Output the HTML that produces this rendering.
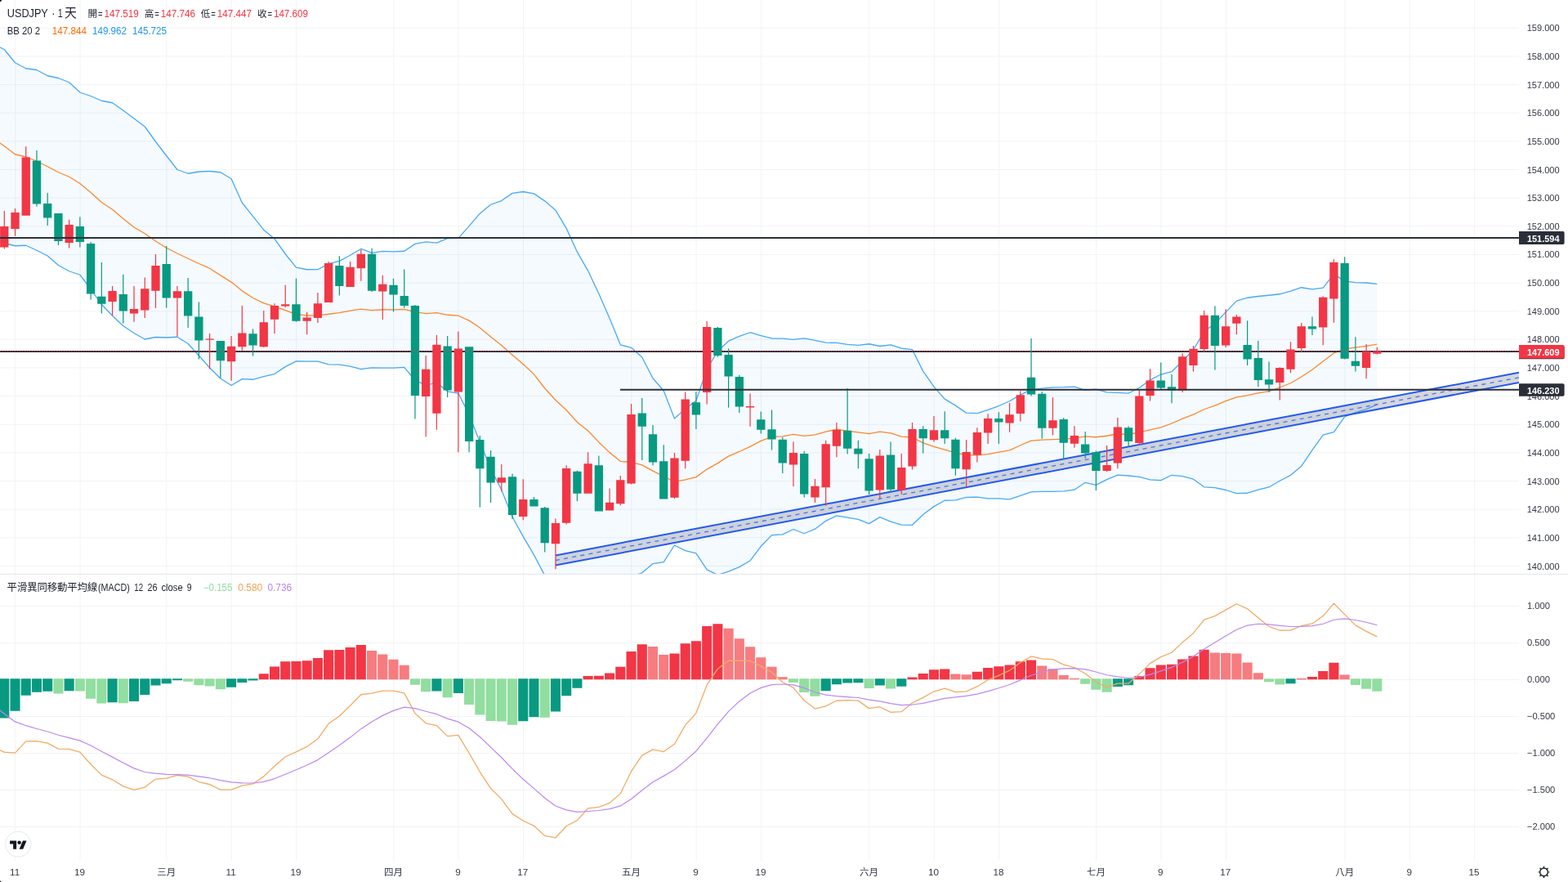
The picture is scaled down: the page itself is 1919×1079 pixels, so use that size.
<!DOCTYPE html>
<html><head><meta charset="utf-8"><title>USDJPY</title><style>html,body{margin:0;padding:0;background:#fff;overflow:hidden}svg{display:block;will-change:transform}text{font-family:"Liberation Sans","Noto Sans CJK TC",sans-serif}</style></head><body>
<svg width="1919" height="1079" viewBox="0 0 1919 1079" font-family="Liberation Sans, Noto Sans CJK TC, sans-serif">
<defs><clipPath id="cm"><rect x="0" y="0" width="1859" height="702.3"/></clipPath><clipPath id="cs"><rect x="0" y="702.3" width="1859" height="351.2"/></clipPath></defs>
<rect width="1919" height="1079" fill="#fff"/>
<path d="M18.75 0V1053.5M98.12 0V1053.5M203.96 0V1053.5M283.33 0V1053.5M362.7 0V1053.5M481.76 0V1053.5M561.14 0V1053.5M640.51 0V1053.5M772.8 0V1053.5M852.18 0V1053.5M931.55 0V1053.5M1063.84 0V1053.5M1143.21 0V1053.5M1222.59 0V1053.5M1341.65 0V1053.5M1421.02 0V1053.5M1500.4 0V1053.5M1645.92 0V1053.5M1725.29 0V1053.5M1804.66 0V1053.5M0 692.42H1859M0 657.78H1859M0 623.14H1859M0 588.5H1859M0 553.86H1859M0 519.22H1859M0 484.58H1859M0 449.94H1859M0 415.3H1859M0 380.66H1859M0 346.02H1859M0 311.38H1859M0 276.74H1859M0 242.1H1859M0 207.46H1859M0 172.82H1859M0 138.18H1859M0 103.54H1859M0 68.9H1859M0 34.26H1859M0 741.47H1859M0 786.49H1859M0 831.5H1859M0 876.51H1859M0 921.53H1859M0 966.55H1859M0 1011.56H1859" stroke="#f2f3f4" stroke-width="1" fill="none"/>
<g clip-path="url(#cm)">
<polygon points="-7.96,54.2 5.27,60.5 18.5,76.75 31.73,83.75 44.96,85.5 58.19,92.75 71.42,95.5 84.64,100.75 97.87,113 111.1,117.5 124.33,123.25 137.56,125.75 150.79,135 164.02,145 177.25,155 190.48,173.25 203.71,190.5 216.94,207.5 230.16,212.25 243.39,210 256.62,209.5 269.85,210.76 283.08,218.72 296.31,248 309.54,264.71 322.77,281.15 336,292.13 349.22,310.75 362.45,327.15 375.68,329.75 388.91,329.7 402.14,322.68 415.37,319.37 428.6,312.27 441.83,304.48 455.06,309.31 468.29,307.38 481.51,307.84 494.74,307.27 507.97,298.36 521.2,295.83 534.43,297.03 547.66,291.71 560.89,291.4 574.12,276.69 587.35,261.19 600.58,250.24 613.8,245.55 627.03,236.4 640.26,234.5 653.49,236.87 666.72,245.86 679.95,257.15 693.18,279.38 706.41,308.15 719.64,331.33 732.87,359.16 746.09,389.4 759.32,421.85 772.55,425.26 785.78,437.04 799.01,462.72 812.24,478.02 825.47,511.96 838.7,500.11 851.93,490.27 865.16,451.27 878.38,429.82 891.61,417.16 904.84,411.32 918.07,406.74 931.3,410.57 944.53,413.98 957.76,414.04 970.99,415.45 984.22,413.93 997.45,416.45 1010.67,419.12 1023.9,419.47 1037.13,421.42 1050.36,422.44 1063.59,420.75 1076.82,423.5 1090.05,421.77 1103.28,426.23 1116.51,427.7 1129.74,454.16 1142.96,473.15 1156.19,488.11 1169.42,496.12 1182.65,505.13 1195.88,505.67 1209.11,501.35 1222.34,496.52 1235.57,490.76 1248.8,483.14 1262.03,476.33 1275.25,475.04 1288.48,473.79 1301.71,473.61 1314.94,473.03 1328.17,477.27 1341.4,476.11 1354.63,479.93 1367.86,480.37 1381.09,481.03 1394.32,474.53 1407.54,464.85 1420.77,458.04 1434,454.74 1447.23,441.75 1460.46,427.96 1473.69,405.69 1486.92,395.53 1500.15,381.85 1513.38,368.12 1526.61,364.25 1539.83,362.51 1553.06,361.26 1566.29,359.77 1579.52,356.14 1592.75,351.74 1605.98,353.97 1619.21,352.08 1632.44,335.38 1645.67,343.83 1658.9,345.62 1672.12,345.98 1685.35,347.29 1685.35,494.83 1672.12,500.61 1658.9,504.52 1645.67,509.98 1632.44,528.56 1619.21,532.02 1605.98,550.66 1592.75,570.23 1579.52,581.36 1566.29,588.28 1553.06,595.97 1539.83,599.09 1526.61,603.23 1513.38,603.65 1500.15,599.5 1486.92,596.62 1473.69,595.81 1460.46,586.17 1447.23,582.6 1434,581.28 1420.77,587.56 1407.54,586.92 1394.32,583.32 1381.09,581.99 1367.86,581.16 1354.63,586.55 1341.4,593.34 1328.17,590.33 1314.94,599.17 1301.71,600.84 1288.48,601.36 1275.25,601.29 1262.03,601.95 1248.8,606.36 1235.57,610.87 1222.34,609.78 1209.11,609.95 1195.88,608.18 1182.65,608.39 1169.42,611.8 1156.19,612.24 1142.96,619.62 1129.74,629.48 1116.51,642.32 1103.28,642.04 1090.05,638.14 1076.82,632.59 1063.59,640.64 1050.36,635.45 1037.13,633.09 1023.9,630.87 1010.67,637.35 997.45,647.16 984.22,652.76 970.99,647.52 957.76,653.9 944.53,654.61 931.3,668.27 918.07,685.95 904.84,693.62 891.61,699.13 878.38,703.42 865.16,696.9 851.93,676.95 838.7,673.69 825.47,666.99 812.24,687.53 799.01,689.53 785.78,700.84 772.55,705.61 759.32,706.72 746.09,717.85 732.87,722.67 719.64,722.72 706.41,724.75 693.18,724.22 679.95,721.82 666.72,704.11 653.49,678.88 640.26,656.42 627.03,632.27 613.8,599.4 600.58,573.51 587.35,540.91 574.12,507.51 560.89,481.05 547.66,478.84 534.43,468.14 521.2,471.3 507.97,465.04 494.74,449.38 481.51,450.06 468.29,450.09 455.06,449.84 441.83,451.59 428.6,448.06 415.37,446.08 402.14,445.82 388.91,442.2 375.68,442.2 362.45,441.9 349.22,448.62 336,457.52 322.77,460.6 309.54,464.27 296.31,463.67 283.08,471.45 269.85,463.04 256.62,450 243.39,435 230.16,420.5 216.94,412.25 203.71,413 190.48,412.5 177.25,415 164.02,407.5 150.79,398.75 137.56,386.25 124.33,372.5 111.1,353.75 97.87,336.25 84.64,331.75 71.42,324.5 58.19,313 44.96,306.25 31.73,300.25 18.5,300.75 5.27,297.5 -7.96,293" fill="#2196F3" fill-opacity="0.05"/>
<polyline points="-7.96,54.2 5.27,60.5 18.5,76.75 31.73,83.75 44.96,85.5 58.19,92.75 71.42,95.5 84.64,100.75 97.87,113 111.1,117.5 124.33,123.25 137.56,125.75 150.79,135 164.02,145 177.25,155 190.48,173.25 203.71,190.5 216.94,207.5 230.16,212.25 243.39,210 256.62,209.5 269.85,210.76 283.08,218.72 296.31,248 309.54,264.71 322.77,281.15 336,292.13 349.22,310.75 362.45,327.15 375.68,329.75 388.91,329.7 402.14,322.68 415.37,319.37 428.6,312.27 441.83,304.48 455.06,309.31 468.29,307.38 481.51,307.84 494.74,307.27 507.97,298.36 521.2,295.83 534.43,297.03 547.66,291.71 560.89,291.4 574.12,276.69 587.35,261.19 600.58,250.24 613.8,245.55 627.03,236.4 640.26,234.5 653.49,236.87 666.72,245.86 679.95,257.15 693.18,279.38 706.41,308.15 719.64,331.33 732.87,359.16 746.09,389.4 759.32,421.85 772.55,425.26 785.78,437.04 799.01,462.72 812.24,478.02 825.47,511.96 838.7,500.11 851.93,490.27 865.16,451.27 878.38,429.82 891.61,417.16 904.84,411.32 918.07,406.74 931.3,410.57 944.53,413.98 957.76,414.04 970.99,415.45 984.22,413.93 997.45,416.45 1010.67,419.12 1023.9,419.47 1037.13,421.42 1050.36,422.44 1063.59,420.75 1076.82,423.5 1090.05,421.77 1103.28,426.23 1116.51,427.7 1129.74,454.16 1142.96,473.15 1156.19,488.11 1169.42,496.12 1182.65,505.13 1195.88,505.67 1209.11,501.35 1222.34,496.52 1235.57,490.76 1248.8,483.14 1262.03,476.33 1275.25,475.04 1288.48,473.79 1301.71,473.61 1314.94,473.03 1328.17,477.27 1341.4,476.11 1354.63,479.93 1367.86,480.37 1381.09,481.03 1394.32,474.53 1407.54,464.85 1420.77,458.04 1434,454.74 1447.23,441.75 1460.46,427.96 1473.69,405.69 1486.92,395.53 1500.15,381.85 1513.38,368.12 1526.61,364.25 1539.83,362.51 1553.06,361.26 1566.29,359.77 1579.52,356.14 1592.75,351.74 1605.98,353.97 1619.21,352.08 1632.44,335.38 1645.67,343.83 1658.9,345.62 1672.12,345.98 1685.35,347.29" fill="none" stroke="#2196F3" stroke-width="1.3" stroke-opacity="0.82" stroke-linejoin="round"/>
<polyline points="-7.96,293 5.27,297.5 18.5,300.75 31.73,300.25 44.96,306.25 58.19,313 71.42,324.5 84.64,331.75 97.87,336.25 111.1,353.75 124.33,372.5 137.56,386.25 150.79,398.75 164.02,407.5 177.25,415 190.48,412.5 203.71,413 216.94,412.25 230.16,420.5 243.39,435 256.62,450 269.85,463.04 283.08,471.45 296.31,463.67 309.54,464.27 322.77,460.6 336,457.52 349.22,448.62 362.45,441.9 375.68,442.2 388.91,442.2 402.14,445.82 415.37,446.08 428.6,448.06 441.83,451.59 455.06,449.84 468.29,450.09 481.51,450.06 494.74,449.38 507.97,465.04 521.2,471.3 534.43,468.14 547.66,478.84 560.89,481.05 574.12,507.51 587.35,540.91 600.58,573.51 613.8,599.4 627.03,632.27 640.26,656.42 653.49,678.88 666.72,704.11 679.95,721.82 693.18,724.22 706.41,724.75 719.64,722.72 732.87,722.67 746.09,717.85 759.32,706.72 772.55,705.61 785.78,700.84 799.01,689.53 812.24,687.53 825.47,666.99 838.7,673.69 851.93,676.95 865.16,696.9 878.38,703.42 891.61,699.13 904.84,693.62 918.07,685.95 931.3,668.27 944.53,654.61 957.76,653.9 970.99,647.52 984.22,652.76 997.45,647.16 1010.67,637.35 1023.9,630.87 1037.13,633.09 1050.36,635.45 1063.59,640.64 1076.82,632.59 1090.05,638.14 1103.28,642.04 1116.51,642.32 1129.74,629.48 1142.96,619.62 1156.19,612.24 1169.42,611.8 1182.65,608.39 1195.88,608.18 1209.11,609.95 1222.34,609.78 1235.57,610.87 1248.8,606.36 1262.03,601.95 1275.25,601.29 1288.48,601.36 1301.71,600.84 1314.94,599.17 1328.17,590.33 1341.4,593.34 1354.63,586.55 1367.86,581.16 1381.09,581.99 1394.32,583.32 1407.54,586.92 1420.77,587.56 1434,581.28 1447.23,582.6 1460.46,586.17 1473.69,595.81 1486.92,596.62 1500.15,599.5 1513.38,603.65 1526.61,603.23 1539.83,599.09 1553.06,595.97 1566.29,588.28 1579.52,581.36 1592.75,570.23 1605.98,550.66 1619.21,532.02 1632.44,528.56 1645.67,509.98 1658.9,504.52 1672.12,500.61 1685.35,494.83" fill="none" stroke="#2196F3" stroke-width="1.3" stroke-opacity="0.82" stroke-linejoin="round"/>
<polyline points="-7.96,169.5 5.27,178.75 18.5,188.75 31.73,192 44.96,197 58.19,203.75 71.42,210.75 84.64,216.25 97.87,224.5 111.1,235.5 124.33,247.5 137.56,256.25 150.79,267.5 164.02,278 177.25,285.75 190.48,295 203.71,303.25 216.94,310 230.16,316.25 243.39,322.5 256.62,328.25 269.85,336.9 283.08,345.09 296.31,355.84 309.54,364.49 322.77,370.88 336,374.83 349.22,379.69 362.45,384.52 375.68,385.97 388.91,385.95 402.14,384.25 415.37,382.72 428.6,380.16 441.83,378.04 455.06,379.58 468.29,378.74 481.51,378.95 494.74,378.32 507.97,381.7 521.2,383.56 534.43,382.59 547.66,385.27 560.89,386.22 574.12,392.1 587.35,401.05 600.58,411.88 613.8,422.48 627.03,434.34 640.26,445.46 653.49,457.87 666.72,474.99 679.95,489.49 693.18,501.8 706.41,516.45 719.64,527.03 732.87,540.91 746.09,553.62 759.32,564.29 772.55,565.44 785.78,568.94 799.01,576.13 812.24,582.78 825.47,589.48 838.7,586.9 851.93,583.61 865.16,574.09 878.38,566.62 891.61,558.14 904.84,552.47 918.07,546.34 931.3,539.42 944.53,534.29 957.76,533.97 970.99,531.48 984.22,533.34 997.45,531.81 1010.67,528.23 1023.9,525.17 1037.13,527.26 1050.36,528.95 1063.59,530.69 1076.82,528.04 1090.05,529.96 1103.28,534.13 1116.51,535.01 1129.74,541.82 1142.96,546.39 1156.19,550.17 1169.42,553.96 1182.65,556.76 1195.88,556.92 1209.11,555.65 1222.34,553.15 1235.57,550.81 1248.8,544.75 1262.03,539.14 1275.25,538.16 1288.48,537.57 1301.71,537.22 1314.94,536.1 1328.17,533.8 1341.4,534.73 1354.63,533.24 1367.86,530.76 1381.09,531.51 1394.32,528.93 1407.54,525.89 1420.77,522.8 1434,518.01 1447.23,512.17 1460.46,507.06 1473.69,500.75 1486.92,496.07 1500.15,490.68 1513.38,485.89 1526.61,483.74 1539.83,480.8 1553.06,478.61 1566.29,474.02 1579.52,468.75 1592.75,460.99 1605.98,452.31 1619.21,442.05 1632.44,431.97 1645.67,426.91 1658.9,425.07 1672.12,423.3 1685.35,421.06" fill="none" stroke="#FF6D00" stroke-width="1.3" stroke-opacity="0.82" stroke-linejoin="round"/>
<polygon points="680,679.4 1859.0,455.8 1859.0,467.9 680,691.6" fill="#787B86" fill-opacity="0.3"/>
<path d="M680 679.4L1859.0 455.8M680 691.6L1859.0 467.9" stroke="#2459EE" stroke-width="2" fill="none"/>
<path d="M680 685.5L1859.0 461.85" stroke="#2962FF" stroke-width="1.3" stroke-dasharray="5 5.3" fill="none" stroke-opacity="0.85"/>
<path d="M0 430.05H1859.0" stroke="#2c303b" stroke-width="1.9" fill="none"/>
<path d="M44.36 184h1.2V252.5h-1.2zM39.81 196.5h10.3V249.5h-10.3zM57.59 236h1.2V276h-1.2zM53.04 249h10.3V266.5h-10.3zM70.82 261h1.2V300h-1.2zM66.27 261h10.3V295h-10.3zM97.27 265.5h1.2V302.5h-1.2zM92.72 277h10.3V296h-10.3zM110.5 296h1.2V366.5h-1.2zM105.95 298h10.3V359.5h-10.3zM123.73 321h1.2V383.5h-1.2zM119.18 362.75h10.3V371.75h-10.3zM150.19 335.75h1.2V395.5h-1.2zM145.64 360h10.3V380.5h-10.3zM203.11 301h1.2V376.5h-1.2zM198.56 323h10.3V364.5h-10.3zM229.56 340h1.2V401h-1.2zM225.01 356.25h10.3V386.5h-10.3zM242.79 369.5h1.2V439.5h-1.2zM238.24 387.5h10.3V416.5h-10.3zM269.25 417h1.2V462.5h-1.2zM264.7 417h10.3V441.25h-10.3zM308.94 402.5h1.2V435.5h-1.2zM304.39 408.25h10.3V422.5h-10.3zM361.85 340.75h1.2V393.75h-1.2zM357.3 372.25h10.3V392.75h-10.3zM414.77 313.25h1.2V361.5h-1.2zM410.22 325h10.3V350h-10.3zM454.46 303.75h1.2V357h-1.2zM449.91 310.75h10.3V355.75h-10.3zM480.91 340.75h1.2V381.5h-1.2zM476.37 348.75h10.3V360.5h-10.3zM494.14 329.5h1.2V376.75h-1.2zM489.59 362h10.3V374h-10.3zM507.37 373h1.2V512.5h-1.2zM502.82 374h10.3V484h-10.3zM547.06 411h1.2V486h-1.2zM542.51 423.5h10.3V477.5h-10.3zM573.52 424.25h1.2V553.25h-1.2zM568.97 424.25h10.3V540h-10.3zM586.75 533h1.2V620.5h-1.2zM582.2 538h10.3V573.25h-10.3zM599.98 551h1.2V615h-1.2zM595.43 558.75h10.3V590.5h-10.3zM626.43 579.5h1.2V635h-1.2zM621.88 583.25h10.3V630h-10.3zM652.89 608h1.2V619.5h-1.2zM648.34 611h10.3V619.5h-10.3zM666.12 620h1.2V675.5h-1.2zM661.57 621.25h10.3V664.25h-10.3zM705.81 575.75h1.2V613h-1.2zM701.26 576.75h10.3V603.75h-10.3zM732.27 557.5h1.2V625.5h-1.2zM727.72 569.25h10.3V625.5h-10.3zM785.18 487h1.2V563h-1.2zM780.63 505.5h10.3V521.75h-10.3zM798.41 520h1.2V569.25h-1.2zM793.86 531.25h10.3V565.5h-10.3zM811.64 544.25h1.2V610.5h-1.2zM807.09 564.25h10.3V610.5h-10.3zM851.33 479h1.2V525h-1.2zM846.78 492.25h10.3V507.5h-10.3zM877.78 400h1.2V436.8h-1.2zM873.24 401h10.3V434.9h-10.3zM891.01 426.5h1.2V498.75h-1.2zM886.46 434h10.3V460.5h-10.3zM904.24 458.75h1.2V505h-1.2zM899.69 461h10.3V497.5h-10.3zM930.7 503.5h1.2V530.5h-1.2zM926.15 513.25h10.3V525.75h-10.3zM943.93 501.5h1.2V550.5h-1.2zM939.38 525.25h10.3V537.5h-10.3zM957.16 535h1.2V579h-1.2zM952.61 537.75h10.3V566.5h-10.3zM983.62 552h1.2V608.5h-1.2zM979.07 555h10.3V604.5h-10.3zM1036.53 475h1.2V555.5h-1.2zM1031.98 526.75h10.3V548.75h-10.3zM1049.76 538.75h1.2V573.25h-1.2zM1045.21 548.75h10.3V555.5h-10.3zM1062.99 555h1.2V605h-1.2zM1058.44 561.25h10.3V600.5h-10.3zM1089.45 540.5h1.2V601.25h-1.2zM1084.9 556.5h10.3V598.75h-10.3zM1129.14 521.25h1.2V554.5h-1.2zM1124.59 525h10.3V536.25h-10.3zM1155.59 503.25h1.2V543h-1.2zM1151.04 526.25h10.3V536.25h-10.3zM1168.82 535.75h1.2V581.75h-1.2zM1164.27 537.75h10.3V573.25h-10.3zM1221.74 504.25h1.2V543h-1.2zM1217.19 512h10.3V516.5h-10.3zM1261.43 414h1.2V484.5h-1.2zM1256.88 461.75h10.3V482.5h-10.3zM1274.65 479h1.2V536.75h-1.2zM1270.1 481.75h10.3V523.75h-10.3zM1301.11 511h1.2V562.25h-1.2zM1296.56 513h10.3V541.75h-10.3zM1327.57 528h1.2V560.75h-1.2zM1323.02 543.5h10.3V554.5h-10.3zM1340.8 551.5h1.2V600h-1.2zM1336.25 553.25h10.3V576h-10.3zM1380.49 521.25h1.2V547h-1.2zM1375.94 523.25h10.3V540h-10.3zM1420.17 443.5h1.2V476.25h-1.2zM1415.62 465.5h10.3V474.5h-10.3zM1433.4 458h1.2V493.25h-1.2zM1428.85 473.25h10.3V477.5h-10.3zM1486.32 374.25h1.2V452.5h-1.2zM1481.77 385.75h10.3V423h-10.3zM1526.01 392.25h1.2V447h-1.2zM1521.46 422h10.3V439.5h-10.3zM1539.23 417h1.2V473.25h-1.2zM1534.68 438h10.3V465h-10.3zM1552.46 442.5h1.2V480h-1.2zM1547.91 464.25h10.3V470.5h-10.3zM1605.38 387.5h1.2V410h-1.2zM1600.83 399.25h10.3V402.5h-10.3zM1645.07 314.2h1.2V439.6h-1.2zM1640.52 322h10.3V438.7h-10.3zM1658.3 412.3h1.2V454.6h-1.2zM1653.75 441.8h10.3V447.8h-10.3z" fill="#089981"/>
<path d="M4.67 258h1.2V304.5h-1.2zM0.12 277h10.3V302.5h-10.3zM17.9 255h1.2V288.7h-1.2zM13.35 260h10.3V280h-10.3zM31.13 179.25h1.2V263.75h-1.2zM26.58 192.5h10.3V263.75h-10.3zM84.05 268.75h1.2V303.5h-1.2zM79.49 275h10.3V297h-10.3zM136.96 350h1.2V386h-1.2zM132.41 356h10.3V369h-10.3zM163.42 350h1.2V393.75h-1.2zM158.87 378h10.3V383.5h-10.3zM176.65 339.5h1.2V389h-1.2zM172.1 353.25h10.3V379.5h-10.3zM189.88 311h1.2V377h-1.2zM185.33 325h10.3V355.75h-10.3zM216.34 350h1.2V411.75h-1.2zM211.78 356.25h10.3V364.5h-10.3zM256.02 408h1.2V451.5h-1.2zM251.47 414.5h10.3V415.75h-10.3zM282.48 411h1.2V465.75h-1.2zM277.93 423.75h10.3V442.25h-10.3zM295.71 374h1.2V428.75h-1.2zM291.16 407.5h10.3V424.25h-10.3zM322.17 380h1.2V425h-1.2zM317.62 394.25h10.3V424.25h-10.3zM335.4 371.25h1.2V408h-1.2zM330.85 374h10.3V390.75h-10.3zM348.62 348.5h1.2V376.25h-1.2zM344.07 372.25h10.3V374.5h-10.3zM375.08 381.75h1.2V409.25h-1.2zM370.53 388.5h10.3V392.75h-10.3zM388.31 358h1.2V395h-1.2zM383.76 371.25h10.3V389h-10.3zM401.54 320h1.2V370h-1.2zM396.99 322h10.3V370h-10.3zM428 320h1.2V351h-1.2zM423.45 326.75h10.3V351h-10.3zM441.23 305.5h1.2V343.75h-1.2zM436.68 310.75h10.3V328.25h-10.3zM467.69 336.75h1.2V391h-1.2zM463.14 347.75h10.3V356.5h-10.3zM520.6 435h1.2V534.25h-1.2zM516.05 451.75h10.3V485h-10.3zM533.83 410h1.2V525.75h-1.2zM529.28 421.75h10.3V505.75h-10.3zM560.29 405.5h1.2V553.25h-1.2zM555.74 426.5h10.3V479.5h-10.3zM613.2 568h1.2V601.25h-1.2zM608.65 584.25h10.3V590.5h-10.3zM639.66 586.25h1.2V636.25h-1.2zM635.11 611h10.3V632h-10.3zM679.35 634.5h1.2V696.25h-1.2zM674.8 640h10.3V665.25h-10.3zM692.58 569.25h1.2V641.5h-1.2zM688.03 573h10.3V639.75h-10.3zM719.04 553.25h1.2V603.75h-1.2zM714.49 567.25h10.3V603.75h-10.3zM745.49 597.5h1.2V624.5h-1.2zM740.94 614.75h10.3V624.5h-10.3zM758.72 582h1.2V618.25h-1.2zM754.17 587.25h10.3V616.25h-10.3zM771.95 494h1.2V592.5h-1.2zM767.4 507h10.3V591.5h-10.3zM824.87 554h1.2V610h-1.2zM820.32 560.5h10.3V608.75h-10.3zM838.1 479.25h1.2V573.25h-1.2zM833.55 488.5h10.3V563.75h-10.3zM864.56 393h1.2V494.5h-1.2zM860.01 400h10.3V480h-10.3zM917.47 481.5h1.2V521.75h-1.2zM912.92 497h10.3V498.5h-10.3zM970.39 540.5h1.2V595h-1.2zM965.84 554h10.3V568.5h-10.3zM996.85 586h1.2V615h-1.2zM992.3 594.75h10.3V608.5h-10.3zM1010.07 538.75h1.2V618.75h-1.2zM1005.52 543.25h10.3V596.25h-10.3zM1023.3 517h1.2V559.25h-1.2zM1018.75 526h10.3V545.75h-10.3zM1076.22 550h1.2V610.5h-1.2zM1071.67 557.5h10.3V599.5h-10.3zM1102.68 555h1.2V605h-1.2zM1098.13 572h10.3V599.5h-10.3zM1115.91 517h1.2V574.5h-1.2zM1111.36 525h10.3V570.5h-10.3zM1142.37 509h1.2V540.5h-1.2zM1137.81 526.25h10.3V538.25h-10.3zM1182.05 538h1.2V595.75h-1.2zM1177.5 553h10.3V574.25h-10.3zM1195.28 523.25h1.2V565.5h-1.2zM1190.73 529h10.3V556.5h-10.3zM1208.51 506.25h1.2V543h-1.2zM1203.96 512h10.3V529.5h-10.3zM1234.97 493h1.2V528.75h-1.2zM1230.42 507.25h10.3V517.5h-10.3zM1248.2 478.25h1.2V515.5h-1.2zM1243.65 483.25h10.3V506h-10.3zM1287.88 486.25h1.2V532.5h-1.2zM1283.33 514.25h10.3V523.75h-10.3zM1314.34 521.25h1.2V547.75h-1.2zM1309.79 533h10.3V542.75h-10.3zM1354.03 545h1.2V577h-1.2zM1349.48 569h10.3V576h-10.3zM1367.26 511h1.2V573.25h-1.2zM1362.71 522.5h10.3V566.5h-10.3zM1393.72 477.5h1.2V545h-1.2zM1389.17 484.5h10.3V542h-10.3zM1406.94 451.25h1.2V490.5h-1.2zM1402.39 465.5h10.3V484h-10.3zM1446.63 432h1.2V480h-1.2zM1442.08 436.25h10.3V477.5h-10.3zM1459.86 423h1.2V454.5h-1.2zM1455.31 426.75h10.3V447h-10.3zM1473.09 380h1.2V430.5h-1.2zM1468.54 385.75h10.3V427h-10.3zM1499.55 378.25h1.2V425h-1.2zM1495 399.25h10.3V422.5h-10.3zM1512.78 385h1.2V409.25h-1.2zM1508.23 387.5h10.3V395.75h-10.3zM1565.69 449.25h1.2V489.5h-1.2zM1561.14 450h10.3V468h-10.3zM1578.92 418.25h1.2V456.25h-1.2zM1574.37 427.5h10.3V451.75h-10.3zM1592.15 395h1.2V431.25h-1.2zM1587.6 399.25h10.3V426h-10.3zM1618.61 362.6h1.2V422.3h-1.2zM1614.06 363.8h10.3V400.5h-10.3zM1631.84 317.2h1.2V394.8h-1.2zM1627.29 320.9h10.3V365.5h-10.3zM1671.53 420.9h1.2V463.2h-1.2zM1666.97 430h10.3V450h-10.3zM1684.75 424.8h1.2V433.4h-1.2zM1680.2 429.8h10.3V432.8h-10.3z" fill="#F23645"/>
<path d="M0 291H1859.0M759 476.8H1859.0" stroke="#2c303b" stroke-width="1.9" fill="none"/>
<path d="M0 429.6H1859.0" stroke="#F23645" stroke-opacity="0.8" stroke-width="1" stroke-dasharray="1.2 1.8" fill="none"/>
</g>
<path d="M0 702.3H1919" stroke="#e0e3eb" stroke-width="1"/>
<g clip-path="url(#cs)">
<path d="M316.72 824.28h12.1V831.3h-12.1zM329.95 815.46h12.1V831.3h-12.1zM343.17 809.33h12.1V831.3h-12.1zM356.4 808.96h12.1V831.3h-12.1zM369.63 808.15h12.1V831.3h-12.1zM382.86 805.02h12.1V831.3h-12.1zM396.09 795.35h12.1V831.3h-12.1zM409.32 794.97h12.1V831.3h-12.1zM422.55 792.02h12.1V831.3h-12.1zM435.78 788.9h12.1V831.3h-12.1zM713.59 827.1h12.1V831.3h-12.1zM726.82 826.72h12.1V831.3h-12.1zM740.04 823.45h12.1V831.3h-12.1zM753.27 815.78h12.1V831.3h-12.1zM766.5 797.05h12.1V831.3h-12.1zM779.73 788.19h12.1V831.3h-12.1zM819.42 799.5h12.1V831.3h-12.1zM832.65 787.27h12.1V831.3h-12.1zM845.88 784.13h12.1V831.3h-12.1zM859.11 766h12.1V831.3h-12.1zM872.34 763.15h12.1V831.3h-12.1zM1110.46 828.62h12.1V831.3h-12.1zM1123.69 823.9h12.1V831.3h-12.1zM1136.91 819.37h12.1V831.3h-12.1zM1150.14 818.55h12.1V831.3h-12.1zM1189.83 821.64h12.1V831.3h-12.1zM1203.06 816.93h12.1V831.3h-12.1zM1216.29 815.32h12.1V831.3h-12.1zM1229.52 813.49h12.1V831.3h-12.1zM1242.75 809.22h12.1V831.3h-12.1zM1255.98 807.54h12.1V831.3h-12.1zM1388.27 826.88h12.1V831.3h-12.1zM1401.49 817.31h12.1V831.3h-12.1zM1414.72 813.57h12.1V831.3h-12.1zM1427.95 812.72h12.1V831.3h-12.1zM1441.18 806.43h12.1V831.3h-12.1zM1454.41 802.38h12.1V831.3h-12.1zM1467.64 794.79h12.1V831.3h-12.1zM1586.7 830.17h12.1V831.3h-12.1zM1599.93 828.08h12.1V831.3h-12.1zM1613.16 821.1h12.1V831.3h-12.1zM1626.39 810.75h12.1V831.3h-12.1z" fill="#F23645"/>
<path d="M449.01 796.05h12.1V831.3h-12.1zM462.24 800.55h12.1V831.3h-12.1zM475.46 806.67h12.1V831.3h-12.1zM488.69 813.65h12.1V831.3h-12.1zM792.96 790.88h12.1V831.3h-12.1zM806.19 800.97h12.1V831.3h-12.1zM885.56 768.66h12.1V831.3h-12.1zM898.79 781.14h12.1V831.3h-12.1zM912.02 791.24h12.1V831.3h-12.1zM925.25 804.25h12.1V831.3h-12.1zM938.48 815.65h12.1V831.3h-12.1zM951.71 828.33h12.1V831.3h-12.1zM1163.37 824.6h12.1V831.3h-12.1zM1176.6 825.16h12.1V831.3h-12.1zM1269.2 814.58h12.1V831.3h-12.1zM1282.43 818.35h12.1V831.3h-12.1zM1295.66 826.03h12.1V831.3h-12.1zM1308.89 829.77h12.1V831.3h-12.1zM1480.87 798.43h12.1V831.3h-12.1zM1494.1 798.89h12.1V831.3h-12.1zM1507.33 799.38h12.1V831.3h-12.1zM1520.56 810.51h12.1V831.3h-12.1zM1533.78 823.37h12.1V831.3h-12.1zM1639.62 825.49h12.1V831.3h-12.1z" fill="#F77C80"/>
<path d="M-0.78 830.3h12.1V878.45h-12.1zM12.45 830.3h12.1V869.85h-12.1zM25.68 830.3h12.1V850.79h-12.1zM38.91 830.3h12.1V846.77h-12.1zM52.14 830.3h12.1V845.72h-12.1zM78.59 830.3h12.1V845.36h-12.1zM131.51 830.3h12.1V859.31h-12.1zM157.97 830.3h12.1V858h-12.1zM171.2 830.3h12.1V850.11h-12.1zM184.43 830.3h12.1V838.48h-12.1zM197.66 830.3h12.1V836.32h-12.1zM210.88 830.3h12.1V832.3h-12.1zM277.03 830.3h12.1V840.8h-12.1zM290.26 830.3h12.1V835h-12.1zM303.49 830.3h12.1V832.52h-12.1zM528.38 830.3h12.1V845.47h-12.1zM554.84 830.3h12.1V847.91h-12.1zM634.21 830.3h12.1V882.34h-12.1zM647.44 830.3h12.1V877.24h-12.1zM673.9 830.3h12.1V870.46h-12.1zM687.13 830.3h12.1V851.28h-12.1zM700.36 830.3h12.1V841.87h-12.1zM1004.62 830.3h12.1V845.19h-12.1zM1017.85 830.3h12.1V837.27h-12.1zM1031.08 830.3h12.1V835.59h-12.1zM1044.31 830.3h12.1V835.25h-12.1zM1070.77 830.3h12.1V838.49h-12.1zM1097.23 830.3h12.1V839.67h-12.1zM1361.81 830.3h12.1V839.98h-12.1zM1375.04 830.3h12.1V838.28h-12.1zM1573.47 830.3h12.1V836.14h-12.1z" fill="#089981"/>
<path d="M65.37 830.3h12.1V848.46h-12.1zM91.82 830.3h12.1V845.52h-12.1zM105.05 830.3h12.1V854.73h-12.1zM118.28 830.3h12.1V860.58h-12.1zM144.74 830.3h12.1V860.26h-12.1zM224.11 830.3h12.1V833.68h-12.1zM237.34 830.3h12.1V838.35h-12.1zM250.57 830.3h12.1V839.51h-12.1zM263.8 830.3h12.1V843.15h-12.1zM501.92 830.3h12.1V837.65h-12.1zM515.15 830.3h12.1V846.2h-12.1zM541.61 830.3h12.1V853.13h-12.1zM568.07 830.3h12.1V862.12h-12.1zM581.3 830.3h12.1V874.39h-12.1zM594.53 830.3h12.1V882.06h-12.1zM607.75 830.3h12.1V882.42h-12.1zM620.98 830.3h12.1V886.69h-12.1zM660.67 830.3h12.1V877.85h-12.1zM964.94 830.3h12.1V835.09h-12.1zM978.17 830.3h12.1V846.94h-12.1zM991.4 830.3h12.1V851.86h-12.1zM1057.54 830.3h12.1V842.1h-12.1zM1084 830.3h12.1V842.45h-12.1zM1322.12 830.3h12.1V836.65h-12.1zM1335.35 830.3h12.1V843.86h-12.1zM1348.58 830.3h12.1V846.67h-12.1zM1547.01 830.3h12.1V834.15h-12.1zM1560.24 830.3h12.1V837.49h-12.1zM1652.85 830.3h12.1V837.99h-12.1zM1666.08 830.3h12.1V842.7h-12.1zM1679.3 830.3h12.1V845.68h-12.1z" fill="#92DDA0"/>
<polyline points="-7.96,914.18 5.27,920.18 18.5,921.14 31.73,906.88 44.96,906.65 58.19,909.13 71.42,916.09 84.64,916.42 97.87,920.06 111.1,935.05 124.33,948.15 137.56,953.81 150.79,961.92 164.02,966.27 177.25,963.01 190.48,953.09 203.71,952.12 216.94,948.26 230.16,950.17 243.39,956.53 256.62,959.66 269.85,966.19 283.08,966.14 296.31,961.19 309.54,958.94 322.77,949.87 336,937.21 349.22,925.72 362.45,919.88 375.68,913.42 388.91,903.84 402.14,885.31 415.37,875.97 428.6,863.32 441.83,849.73 455.06,848.19 468.29,845.13 481.51,845.21 494.74,847.91 507.97,872.62 521.2,884.82 534.43,887.55 547.66,900.6 560.89,899.46 574.12,921.3 587.35,944.27 600.58,964.54 613.8,977.61 627.03,995.66 640.26,1003.99 653.49,1010.3 666.72,1022.47 679.95,1024.8 693.18,1010.54 706.41,1003.69 719.64,988.8 732.87,987.4 746.09,982.29 759.32,970.87 772.55,943.7 785.78,924.19 799.01,916.9 812.24,919.53 825.47,910.23 838.7,887.13 851.93,872.32 865.16,837.98 878.38,818.23 891.61,808.2 904.84,808.27 918.07,808.47 931.3,814.85 944.53,822.46 957.76,834.53 970.99,841.35 984.22,857.04 997.45,867.02 1010.67,863.76 1023.9,857.26 1037.13,856.58 1050.36,857.15 1063.59,866.62 1076.82,864.73 1090.05,871.41 1103.28,870.64 1116.51,859.85 1129.74,853.4 1142.96,846.02 1156.19,842.13 1169.42,846.63 1182.65,845.78 1195.88,839.97 1209.11,831.8 1222.34,826.32 1235.57,820.16 1248.8,810.49 1262.03,802.99 1275.25,805.98 1288.48,806.64 1301.71,813.13 1314.94,816.61 1328.17,823.95 1341.4,834.23 1354.63,840.8 1367.86,836.21 1381.09,836.17 1394.32,824.59 1407.54,811.65 1420.77,803.6 1434,798.23 1447.23,785.85 1460.46,774.7 1473.69,758.11 1486.92,753.65 1500.15,746.13 1513.38,738.77 1526.61,744.82 1539.83,755.83 1553.06,766.45 1566.29,771.26 1579.52,771.05 1592.75,765.71 1605.98,762.95 1619.21,753.55 1632.44,738.17 1645.67,751.59 1658.9,764.89 1672.12,772.38 1685.35,778.87" fill="none" stroke="#F2AB66" stroke-width="1.3" stroke-linejoin="round"/>
<polyline points="-7.96,862.33 5.27,873.33 18.5,882.89 31.73,887.69 44.96,891.48 58.19,895.01 71.42,899.23 84.64,902.66 97.87,906.14 111.1,911.93 124.33,919.17 137.56,926.1 150.79,933.26 164.02,939.87 177.25,944.49 190.48,946.21 203.71,947.39 216.94,947.57 230.16,948.09 243.39,949.78 256.62,951.75 269.85,954.64 283.08,956.94 296.31,957.79 309.54,958.02 322.77,956.39 336,952.55 349.22,947.19 362.45,941.73 375.68,936.06 388.91,929.62 402.14,920.76 415.37,911.8 428.6,902.1 441.83,891.63 455.06,882.94 468.29,875.38 481.51,869.34 494.74,865.06 507.97,866.57 521.2,870.22 534.43,873.69 547.66,879.07 560.89,883.15 574.12,890.78 587.35,901.47 600.58,914.09 613.8,926.79 627.03,940.57 640.26,953.25 653.49,964.66 666.72,976.22 679.95,985.94 693.18,990.86 706.41,993.43 719.64,992.5 732.87,991.48 746.09,989.64 759.32,985.89 772.55,977.45 785.78,966.8 799.01,956.82 812.24,949.36 825.47,941.54 838.7,930.65 851.93,918.99 865.16,902.79 878.38,885.87 891.61,870.34 904.84,857.93 918.07,848.04 931.3,841.4 944.53,837.61 957.76,836.99 970.99,837.87 984.22,841.7 997.45,846.77 1010.67,850.16 1023.9,851.58 1037.13,852.58 1050.36,853.5 1063.59,856.12 1076.82,857.84 1090.05,860.56 1103.28,862.57 1116.51,862.03 1129.74,860.3 1142.96,857.44 1156.19,854.38 1169.42,852.83 1182.65,851.42 1195.88,849.13 1209.11,845.66 1222.34,841.79 1235.57,837.47 1248.8,832.07 1262.03,826.26 1275.25,822.2 1288.48,819.09 1301.71,817.9 1314.94,817.64 1328.17,818.9 1341.4,821.97 1354.63,825.73 1367.86,827.83 1381.09,829.5 1394.32,828.52 1407.54,825.14 1420.77,820.84 1434,816.31 1447.23,810.22 1460.46,803.12 1473.69,794.11 1486.92,786.02 1500.15,778.04 1513.38,770.19 1526.61,765.11 1539.83,763.26 1553.06,763.9 1566.29,765.37 1579.52,766.5 1592.75,766.35 1605.98,765.67 1619.21,763.24 1632.44,758.23 1645.67,756.9 1658.9,758.5 1672.12,761.27 1685.35,764.79" fill="none" stroke="#BA88F0" stroke-width="1.2" stroke-linejoin="round"/>
</g>
<text x="1868.7" y="697" font-size="11.7" fill="#333743" textLength="39.9" lengthAdjust="spacingAndGlyphs">140.000</text>
<text x="1868.7" y="662" font-size="11.7" fill="#333743" textLength="39.9" lengthAdjust="spacingAndGlyphs">141.000</text>
<text x="1868.7" y="627" font-size="11.7" fill="#333743" textLength="39.9" lengthAdjust="spacingAndGlyphs">142.000</text>
<text x="1868.7" y="593" font-size="11.7" fill="#333743" textLength="39.9" lengthAdjust="spacingAndGlyphs">143.000</text>
<text x="1868.7" y="558" font-size="11.7" fill="#333743" textLength="39.9" lengthAdjust="spacingAndGlyphs">144.000</text>
<text x="1868.7" y="523" font-size="11.7" fill="#333743" textLength="39.9" lengthAdjust="spacingAndGlyphs">145.000</text>
<text x="1868.7" y="489" font-size="11.7" fill="#333743" textLength="39.9" lengthAdjust="spacingAndGlyphs">146.000</text>
<text x="1868.7" y="454" font-size="11.7" fill="#333743" textLength="39.9" lengthAdjust="spacingAndGlyphs">147.000</text>
<text x="1868.7" y="419" font-size="11.7" fill="#333743" textLength="39.9" lengthAdjust="spacingAndGlyphs">148.000</text>
<text x="1868.7" y="385" font-size="11.7" fill="#333743" textLength="39.9" lengthAdjust="spacingAndGlyphs">149.000</text>
<text x="1868.7" y="350" font-size="11.7" fill="#333743" textLength="39.9" lengthAdjust="spacingAndGlyphs">150.000</text>
<text x="1868.7" y="315" font-size="11.7" fill="#333743" textLength="39.9" lengthAdjust="spacingAndGlyphs">151.000</text>
<text x="1868.7" y="281" font-size="11.7" fill="#333743" textLength="39.9" lengthAdjust="spacingAndGlyphs">152.000</text>
<text x="1868.7" y="246" font-size="11.7" fill="#333743" textLength="39.9" lengthAdjust="spacingAndGlyphs">153.000</text>
<text x="1868.7" y="212" font-size="11.7" fill="#333743" textLength="39.9" lengthAdjust="spacingAndGlyphs">154.000</text>
<text x="1868.7" y="177" font-size="11.7" fill="#333743" textLength="39.9" lengthAdjust="spacingAndGlyphs">155.000</text>
<text x="1868.7" y="142" font-size="11.7" fill="#333743" textLength="39.9" lengthAdjust="spacingAndGlyphs">156.000</text>
<text x="1868.7" y="108" font-size="11.7" fill="#333743" textLength="39.9" lengthAdjust="spacingAndGlyphs">157.000</text>
<text x="1868.7" y="73" font-size="11.7" fill="#333743" textLength="39.9" lengthAdjust="spacingAndGlyphs">158.000</text>
<text x="1868.7" y="38" font-size="11.7" fill="#333743" textLength="39.9" lengthAdjust="spacingAndGlyphs">159.000</text>
<text x="1868.9" y="745" font-size="11.7" fill="#333743" textLength="28" lengthAdjust="spacingAndGlyphs">1.000</text>
<text x="1868.9" y="790" font-size="11.7" fill="#333743" textLength="28" lengthAdjust="spacingAndGlyphs">0.500</text>
<text x="1868.9" y="835" font-size="11.7" fill="#333743" textLength="28" lengthAdjust="spacingAndGlyphs">0.000</text>
<text x="1868.9" y="880" font-size="11.7" fill="#333743" textLength="34.4" lengthAdjust="spacingAndGlyphs">−0.500</text>
<text x="1868.9" y="925" font-size="11.7" fill="#333743" textLength="34.4" lengthAdjust="spacingAndGlyphs">−1.000</text>
<text x="1868.9" y="970" font-size="11.7" fill="#333743" textLength="34.4" lengthAdjust="spacingAndGlyphs">−1.500</text>
<text x="1868.9" y="1015" font-size="11.7" fill="#333743" textLength="34.4" lengthAdjust="spacingAndGlyphs">−2.000</text>
<path d="M1859.0 283.1H1912.6a2 2 0 0 1 2 2V297.0a2 2 0 0 1 -2 2H1859.0z" fill="#2a2e39"/>
<text x="1868.9" y="295.65" font-size="11.5" fill="#fff" font-weight="bold" textLength="39.6" lengthAdjust="spacingAndGlyphs">151.594</text>
<path d="M1859.0 469.3H1912.6a2 2 0 0 1 2 2V482.8a2 2 0 0 1 -2 2H1859.0z" fill="#2a2e39"/>
<text x="1868.9" y="481.65" font-size="11.5" fill="#fff" font-weight="bold" textLength="39.6" lengthAdjust="spacingAndGlyphs">146.230</text>
<path d="M1859.0 423.2H1912.6a2 2 0 0 1 2 2V437.2a2 2 0 0 1 -2 2H1859.0z" fill="#2a2e39"/>
<text x="1868.9" y="435.8" font-size="11.5" fill="#fff" font-weight="bold" textLength="39.6" lengthAdjust="spacingAndGlyphs">147.582</text>
<path d="M1859.0 422.1H1912.6a2 2 0 0 1 2 2V436.4a2 2 0 0 1 -2 2H1859.0z" fill="#F23645"/>
<text x="1868.9" y="434.85" font-size="11.5" fill="#fff" font-weight="bold" textLength="39.6" lengthAdjust="spacingAndGlyphs">147.609</text>
<text x="18.1" y="1071" font-size="11.7" fill="#333743" text-anchor="middle">11</text>
<text x="97.47" y="1071" font-size="11.7" fill="#333743" text-anchor="middle">19</text>
<text x="192.21" y="1070.6" font-size="11.5" fill="#333743">三月</text>
<text x="282.68" y="1071" font-size="11.7" fill="#333743" text-anchor="middle">11</text>
<text x="362.05" y="1071" font-size="11.7" fill="#333743" text-anchor="middle">19</text>
<text x="470.01" y="1070.6" font-size="11.5" fill="#333743">四月</text>
<text x="560.49" y="1071" font-size="11.7" fill="#333743" text-anchor="middle">9</text>
<text x="639.86" y="1071" font-size="11.7" fill="#333743" text-anchor="middle">17</text>
<text x="761.05" y="1070.6" font-size="11.5" fill="#333743">五月</text>
<text x="851.53" y="1071" font-size="11.7" fill="#333743" text-anchor="middle">9</text>
<text x="930.9" y="1071" font-size="11.7" fill="#333743" text-anchor="middle">19</text>
<text x="1052.09" y="1070.6" font-size="11.5" fill="#333743">六月</text>
<text x="1142.56" y="1071" font-size="11.7" fill="#333743" text-anchor="middle">10</text>
<text x="1221.94" y="1071" font-size="11.7" fill="#333743" text-anchor="middle">18</text>
<text x="1329.9" y="1070.6" font-size="11.5" fill="#333743">七月</text>
<text x="1420.37" y="1071" font-size="11.7" fill="#333743" text-anchor="middle">9</text>
<text x="1499.75" y="1071" font-size="11.7" fill="#333743" text-anchor="middle">17</text>
<text x="1634.17" y="1070.6" font-size="11.5" fill="#333743">八月</text>
<text x="1724.64" y="1071" font-size="11.7" fill="#333743" text-anchor="middle">9</text>
<text x="1804.01" y="1071" font-size="11.7" fill="#333743" text-anchor="middle">15</text>
<text x="8.8" y="20.6" font-size="13.8" fill="#1c202b" textLength="50" lengthAdjust="spacingAndGlyphs">USDJPY</text>
<text x="63" y="20.6" font-size="14" fill="#1c202b">·</text>
<text x="70.8" y="20.6" font-size="14" fill="#1c202b" textLength="6" lengthAdjust="spacingAndGlyphs">1</text>
<text x="78.9" y="20.6" font-size="14.9" fill="#1c202b">天</text>
<text x="107.5" y="20.6" font-size="11.6" fill="#1c202b">開</text>
<text x="120" y="20.6" font-size="12" fill="#1c202b" textLength="5.6" lengthAdjust="spacingAndGlyphs">=</text>
<text x="127.5" y="20.6" font-size="12" fill="#F23645" textLength="42.2" lengthAdjust="spacingAndGlyphs">147.519</text>
<text x="176.75" y="20.6" font-size="11.6" fill="#1c202b">高</text>
<text x="189.25" y="20.6" font-size="12" fill="#1c202b" textLength="5.6" lengthAdjust="spacingAndGlyphs">=</text>
<text x="196.75" y="20.6" font-size="12" fill="#F23645" textLength="42.2" lengthAdjust="spacingAndGlyphs">147.746</text>
<text x="245.8" y="20.6" font-size="11.6" fill="#1c202b">低</text>
<text x="258.3" y="20.6" font-size="12" fill="#1c202b" textLength="5.6" lengthAdjust="spacingAndGlyphs">=</text>
<text x="265.8" y="20.6" font-size="12" fill="#F23645" textLength="42.2" lengthAdjust="spacingAndGlyphs">147.447</text>
<text x="314.9" y="20.6" font-size="11.6" fill="#1c202b">收</text>
<text x="327.4" y="20.6" font-size="12" fill="#1c202b" textLength="5.6" lengthAdjust="spacingAndGlyphs">=</text>
<text x="334.9" y="20.6" font-size="12" fill="#F23645" textLength="42.2" lengthAdjust="spacingAndGlyphs">147.609</text>
<text x="8.75" y="41.5" font-size="12" fill="#1c202b" textLength="40.2" lengthAdjust="spacingAndGlyphs">BB 20 2</text>
<text x="63.75" y="41.5" font-size="12" fill="#FF6D00" textLength="42.2" lengthAdjust="spacingAndGlyphs">147.844</text>
<text x="113" y="41.5" font-size="12" fill="#2196F3" textLength="42" lengthAdjust="spacingAndGlyphs">149.962</text>
<text x="162" y="41.5" font-size="12" fill="#2196F3" textLength="42" lengthAdjust="spacingAndGlyphs">145.725</text>
<text x="8.6" y="723" font-size="12.4" fill="#1c202b" textLength="110.6" lengthAdjust="spacing">平滑異同移動平均線</text>
<text x="120" y="723" font-size="12" fill="#1c202b" textLength="38.7" lengthAdjust="spacingAndGlyphs">(MACD)</text>
<text x="164.25" y="723" font-size="12" fill="#1c202b" textLength="10.8" lengthAdjust="spacingAndGlyphs">12</text>
<text x="180.5" y="723" font-size="12" fill="#1c202b" textLength="12" lengthAdjust="spacingAndGlyphs">26</text>
<text x="197.5" y="723" font-size="12" fill="#1c202b" textLength="26.2" lengthAdjust="spacingAndGlyphs">close</text>
<text x="228.75" y="723" font-size="12" fill="#1c202b" textLength="5.8" lengthAdjust="spacingAndGlyphs">9</text>
<text x="248.75" y="723" font-size="12" fill="#92DDA0" textLength="35.7" lengthAdjust="spacingAndGlyphs">−0.155</text>
<text x="291.25" y="723" font-size="12" fill="#F2A356" textLength="30" lengthAdjust="spacingAndGlyphs">0.580</text>
<text x="327.5" y="723" font-size="12" fill="#B884F0" textLength="29.5" lengthAdjust="spacingAndGlyphs">0.736</text>
<circle cx="22.25" cy="1032.75" r="15.6" fill="#fff" stroke="#e6e8ee" stroke-width="1"/>
<g transform="translate(12.1 1026.2) scale(0.575)" fill="#131722"><path d="M14 22H7V11H0V4h14v18zM28 22h-8l7.5-18h8L28 22z"/><circle cx="20" cy="8" r="4"/></g>
<circle cx="1889.5" cy="1066.9" r="4.9" fill="none" stroke="#131722" stroke-width="1.4"/><path d="M1893.18 1070.58L1894.52 1071.92M1889.5 1072.1L1889.5 1074M1885.82 1070.58L1884.48 1071.92M1885.82 1063.22L1884.48 1061.88M1889.5 1061.7L1889.5 1059.8M1893.18 1063.22L1894.52 1061.88" stroke="#131722" stroke-width="1.3" fill="none"/><path d="M1894.7 1066.9L1896.8 1066.9M1884.3 1066.9L1882.2 1066.9" stroke="#131722" stroke-opacity="0.55" stroke-width="1.3" fill="none"/>
<path d="M0 0H2.3Q1.8 1.8 0 2.3zM0 1079V1077.2Q1.2 1077.6 1.6 1079z" fill="#111"/>
</svg>
</body></html>
